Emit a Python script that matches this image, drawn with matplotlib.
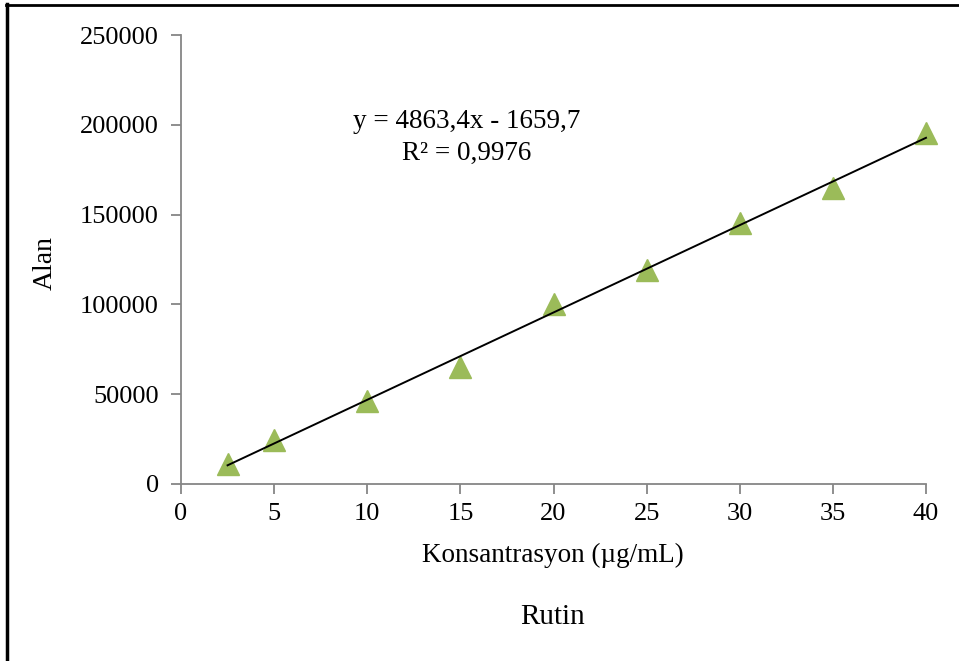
import matplotlib
matplotlib.use("Agg")
import matplotlib.pyplot as plt
import numpy as np
from matplotlib.lines import Line2D

conc = [2.5, 5, 10, 15, 20, 25, 30, 35, 40]
area = [11200, 24500, 46200, 65100, 100200, 119000, 145300, 164800, 195400]
eq_text = "y = 4863,4x - 1659,7"
r2_text = "R² = 0,9976"
xticks = [0, 5, 10, 15, 20, 25, 30, 35, 40]
yticks = [0, 50000, 100000, 150000, 200000, 250000]

plt.rcParams['font.family'] = ['Liberation Serif', 'DejaVu Serif']

W, H = 959, 661
fig = plt.figure(figsize=(W/100, H/100), dpi=100)
ax = fig.add_axes([181/W, 1-484/H, (926-181)/W, (484-35)/H])

x = np.array(conc); y = np.array(area)
m, b = np.polyfit(x, y, 1)
xl = np.array([x.min(), x.max()])
ax.plot(xl, m*xl + b, color='black', lw=1.4, zorder=3, clip_on=False)
ax.plot(x, y, linestyle='none', marker='^', ms=16, color='#9BBB59',
        markeredgecolor='#9BBB59', zorder=2, clip_on=False)

ax.set_xlim(0, 40)
ax.set_ylim(0, 250000)
ax.set_xticks(xticks)
ax.set_yticks(yticks)
ax.set_xticklabels([str(v) for v in xticks])
ax.set_yticklabels([str(v) for v in yticks])
for s in ['top', 'right']:
    ax.spines[s].set_visible(False)
for s in ['left', 'bottom']:
    ax.spines[s].set_color('#868686')
    ax.spines[s].set_linewidth(1.3)
ax.tick_params(axis='both', direction='out', length=7, width=1.3, color='#868686',
               labelsize=19, labelcolor='black')
ax.tick_params(axis='x', pad=7)
ax.tick_params(axis='y', pad=9)

fig.text(467/W, 1-122/H, eq_text, ha='center', va='center', fontsize=19.5)
fig.text(467/W, 1-153/H, r2_text, ha='center', va='center', fontsize=19.5)
fig.text(553/W, 1-555/H, "Konsantrasyon (µg/mL)", ha='center', va='center', fontsize=19.5)
fig.text(45/W, 1-263/H, "Alan", ha='center', va='center', fontsize=20, rotation=90)
fig.text(553/W, 1-617/H, "Rutin", ha='center', va='center', fontsize=21)

fig.add_artist(Line2D([7/W, 7/W], [0, 1-4/H], color='black', lw=2.5, transform=fig.transFigure))
fig.add_artist(Line2D([6/W, 1], [1-5/H, 1-5/H], color='black', lw=2.0, transform=fig.transFigure))

fig.savefig("out.png", dpi=100)
